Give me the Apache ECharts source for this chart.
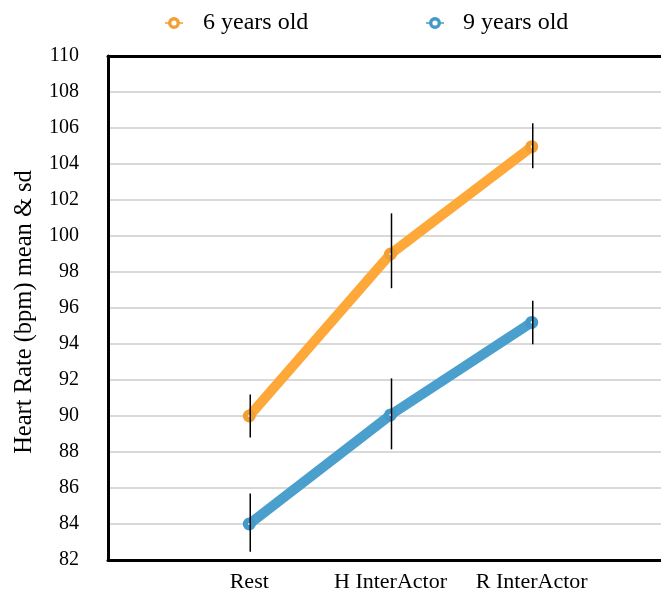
<!DOCTYPE html>
<html>
<head>
<meta charset="utf-8">
<script src="https://cdn.jsdelivr.net/npm/echarts@6/dist/echarts.min.js"></script>
<style>html,body{margin:0;padding:0;background:#fff}#c{width:661px;height:595px}</style>
</head>
<body>
<div id="c"></div>
<script>
var categories = ['', 'Rest', 'H InterActor', 'R InterActor', ''];
var seriesNames = ['6 years old', '9 years old'];
var mean6 = [null, 90, 99, 104.96, null];
var low6 = [null, 88.8, 97.1, 103.76, null];
var high6 = [null, 91.2, 101.26, 106.26, null];
var mean9 = [null, 84, 90.06, 95.2, null];
var low9 = [null, 82.46, 88.15, 93.98, null];
var high9 = [null, 85.7, 92.09, 96.4, null];
var yMin = 82, yMax = 110, yStep = 2;

var font = 'Liberation Serif';
var chart = echarts.init(document.getElementById('c'));

var ringIcon = 'path://M0,5.2 L3.2,5.2 L3.2,6.8 L0,6.8 Z M14.8,5.2 L18,5.2 L18,6.8 L14.8,6.8 Z ' +
  'M9,0 A6,6 0 1,1 9,12 A6,6 0 1,1 9,0 Z M9,3.4 A2.6,2.6 0 1,0 9,8.6 A2.6,2.6 0 1,0 9,3.4 Z';

function errData(lo, hi, mean) {
  var out = [];
  for (var i = 0; i < lo.length; i++) {
    if (lo[i] != null) out.push([i, lo[i], hi[i], mean[i]]);
  }
  return out;
}
function errRender(params, api) {
  var p1 = api.coord([api.value(0), api.value(1)]);
  var p2 = api.coord([api.value(0), api.value(2)]);
  var pm = api.coord([api.value(0), api.value(3)]);
  return {
    type: 'group',
    children: [{
      type: 'circle',
      shape: { cx: pm[0], cy: pm[1], r: 1.1 },
      style: { fill: '#ffffff' }
    }, {
      type: 'line',
      shape: { x1: p1[0] + 1, y1: p1[1], x2: p2[0] + 1, y2: p2[1] },
      style: { stroke: '#000', lineWidth: 1.5 }
    }]
  };
}

chart.setOption({
  animation: false,
  legend: [{
    left: 165, top: 11, padding: 0,
    itemWidth: 18, itemHeight: 12,
    icon: ringIcon,
    textStyle: { fontFamily: font, fontSize: 24, lineHeight: 24, color: '#000', padding: [0, 0, 0, 15] },
    data: [seriesNames[0]]
  }, {
    left: 426, top: 11, padding: 0,
    itemWidth: 18, itemHeight: 12,
    icon: ringIcon,
    textStyle: { fontFamily: font, fontSize: 24, lineHeight: 24, color: '#000', padding: [0, 0, 0, 14] },
    data: [seriesNames[1]]
  }],
  grid: {
    left: 108, top: 56, bottom: 35, right: -12,
    outerBoundsMode: 'none',
    containLabel: false
  },
  xAxis: [{
    type: 'category',
    data: categories,
    boundaryGap: false,
    axisLine: { lineStyle: { color: '#000', width: 3 } },
    axisTick: { show: false },
    axisLabel: { fontFamily: font, fontSize: 22, color: '#000', margin: 11, interval: 0 },
    splitLine: { show: false }
  }, {
    type: 'category',
    position: 'top',
    data: categories,
    boundaryGap: false,
    axisLine: { show: true, lineStyle: { color: '#000', width: 3 } },
    axisTick: { show: false },
    axisLabel: { show: false },
    splitLine: { show: false }
  }],
  yAxis: {
    type: 'value',
    min: yMin, max: yMax, interval: yStep,
    name: 'Heart Rate (bpm) mean & sd',
    nameLocation: 'middle',
    nameGap: 71,
    nameTextStyle: { fontFamily: font, fontSize: 24.5, color: '#000', padding: [0, 8, 0, 0] },
    axisLine: { show: true, lineStyle: { color: '#000', width: 3 } },
    axisTick: { show: false },
    axisLabel: { fontFamily: font, fontSize: 20, color: '#000', margin: 29 },
    splitLine: { lineStyle: { color: '#cccccc', width: 1.5 } }
  },
  series: [{
    name: seriesNames[0],
    type: 'line',
    data: mean6,
    color: '#FFA83A',
    lineStyle: { width: 10, color: '#FFA83A' },
    symbol: 'circle',
    symbolSize: 13,
    itemStyle: { color: '#F0A034' },
    z: 3
  }, {
    name: seriesNames[1],
    type: 'line',
    data: mean9,
    color: '#4A9FCD',
    lineStyle: { width: 10, color: '#4A9FCD' },
    symbol: 'circle',
    symbolSize: 13,
    itemStyle: { color: '#4399C8' },
    z: 3
  }, {
    type: 'custom',
    renderItem: errRender,
    data: errData(low6, high6, mean6),
    z: 10,
    silent: true
  }, {
    type: 'custom',
    renderItem: errRender,
    data: errData(low9, high9, mean9),
    z: 10,
    silent: true
  }]
});
</script>
</body>
</html>
